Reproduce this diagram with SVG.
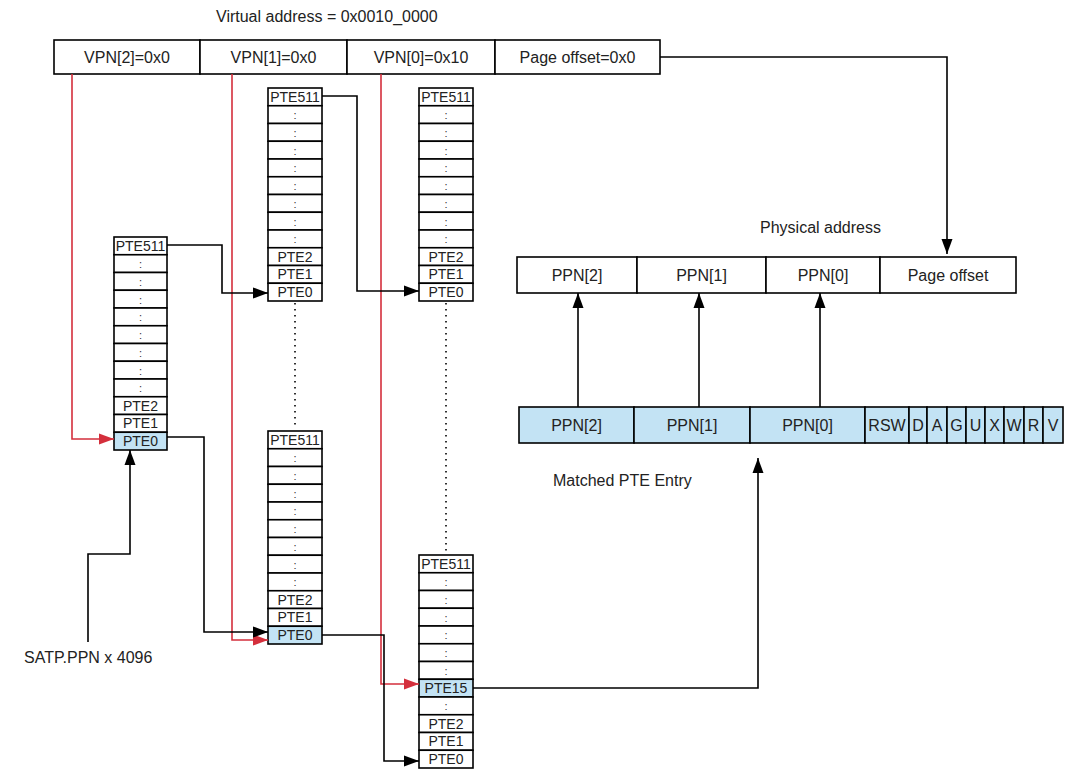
<svg xmlns="http://www.w3.org/2000/svg" width="1072" height="784" viewBox="0 0 1072 784">
<defs>
<style>
.box{fill:#fff;stroke:#000;stroke-width:1.6}
.hl{fill:#c3e3f4;stroke:#000;stroke-width:1.6}
.t{font-family:"Liberation Sans",Arial,sans-serif;font-size:16px;fill:#222;text-anchor:middle}
.tl{font-family:"Liberation Sans",Arial,sans-serif;font-size:16px;fill:#222}
.c{font-family:"Liberation Sans",Arial,sans-serif;font-size:14px;fill:#222;text-anchor:middle}
.d{font-family:"Liberation Sans",Arial,sans-serif;font-size:11px;fill:#333;text-anchor:middle}
.k{fill:none;stroke:#000;stroke-width:1.6}
.r{fill:none;stroke:#d42f3c;stroke-width:1.6}
.dot{fill:none;stroke:#000;stroke-width:1.6;stroke-dasharray:1.5 4.5}
</style>
<marker id="ak" markerUnits="userSpaceOnUse" markerWidth="16" markerHeight="12" refX="15" refY="6" orient="auto"><path d="M0,0.5 L15,6 L0,11.5 z" fill="#000"/></marker>
<marker id="ar" markerUnits="userSpaceOnUse" markerWidth="16" markerHeight="12" refX="15" refY="6" orient="auto"><path d="M0,0.5 L15,6 L0,11.5 z" fill="#d42f3c"/></marker>
</defs>
<rect width="1072" height="784" fill="#fff"/>

<g id="virtual-address">
<text class="tl" x="216" y="22">Virtual address = 0x0010_0000</text>
<rect class="box" x="54" y="40" width="146" height="34"/>
<rect class="box" x="200" y="40" width="147" height="34"/>
<rect class="box" x="347" y="40" width="148" height="34"/>
<rect class="box" x="495" y="40" width="165" height="34"/>
<text class="t" x="127" y="63">VPN[2]=0x0</text>
<text class="t" x="273.5" y="63">VPN[1]=0x0</text>
<text class="t" x="421" y="63">VPN[0]=0x10</text>
<text class="t" x="577.5" y="63">Page offset=0x0</text>
</g>

<g id="table-l2" transform="translate(114,237)">
<rect class="box" x="0" y="0" width="53" height="17.75"/>
<rect class="box" x="0" y="17.75" width="53" height="17.75"/>
<rect class="box" x="0" y="35.5" width="53" height="17.75"/>
<rect class="box" x="0" y="53.25" width="53" height="17.75"/>
<rect class="box" x="0" y="71" width="53" height="17.75"/>
<rect class="box" x="0" y="88.75" width="53" height="17.75"/>
<rect class="box" x="0" y="106.5" width="53" height="17.75"/>
<rect class="box" x="0" y="124.25" width="53" height="17.75"/>
<rect class="box" x="0" y="142" width="53" height="17.75"/>
<rect class="box" x="0" y="159.75" width="53" height="17.75"/>
<rect class="box" x="0" y="177.5" width="53" height="17.75"/>
<rect class="hl" x="0" y="195.25" width="53" height="17.75"/>
<text class="c" x="26.5" y="14">PTE511</text>
<text class="d" x="26.5" y="31">:</text>
<text class="d" x="26.5" y="48.75">:</text>
<text class="d" x="26.5" y="66.5">:</text>
<text class="d" x="26.5" y="84.25">:</text>
<text class="d" x="26.5" y="102">:</text>
<text class="d" x="26.5" y="119.75">:</text>
<text class="d" x="26.5" y="137.5">:</text>
<text class="d" x="26.5" y="155.25">:</text>
<text class="c" x="26.5" y="173.5">PTE2</text>
<text class="c" x="26.5" y="191.25">PTE1</text>
<text class="c" x="26.5" y="209">PTE0</text>
</g>

<g id="table-l1a" transform="translate(268,88)">
<rect class="box" x="0" y="0" width="54" height="17.75"/>
<rect class="box" x="0" y="17.75" width="54" height="17.75"/>
<rect class="box" x="0" y="35.5" width="54" height="17.75"/>
<rect class="box" x="0" y="53.25" width="54" height="17.75"/>
<rect class="box" x="0" y="71" width="54" height="17.75"/>
<rect class="box" x="0" y="88.75" width="54" height="17.75"/>
<rect class="box" x="0" y="106.5" width="54" height="17.75"/>
<rect class="box" x="0" y="124.25" width="54" height="17.75"/>
<rect class="box" x="0" y="142" width="54" height="17.75"/>
<rect class="box" x="0" y="159.75" width="54" height="17.75"/>
<rect class="box" x="0" y="177.5" width="54" height="17.75"/>
<rect class="box" x="0" y="195.25" width="54" height="17.75"/>
<text class="c" x="27" y="14">PTE511</text>
<text class="d" x="27" y="31">:</text>
<text class="d" x="27" y="48.75">:</text>
<text class="d" x="27" y="66.5">:</text>
<text class="d" x="27" y="84.25">:</text>
<text class="d" x="27" y="102">:</text>
<text class="d" x="27" y="119.75">:</text>
<text class="d" x="27" y="137.5">:</text>
<text class="d" x="27" y="155.25">:</text>
<text class="c" x="27" y="173.5">PTE2</text>
<text class="c" x="27" y="191.25">PTE1</text>
<text class="c" x="27" y="209">PTE0</text>
</g>

<g id="table-l0a" transform="translate(419,88)">
<rect class="box" x="0" y="0" width="54" height="17.75"/>
<rect class="box" x="0" y="17.75" width="54" height="17.75"/>
<rect class="box" x="0" y="35.5" width="54" height="17.75"/>
<rect class="box" x="0" y="53.25" width="54" height="17.75"/>
<rect class="box" x="0" y="71" width="54" height="17.75"/>
<rect class="box" x="0" y="88.75" width="54" height="17.75"/>
<rect class="box" x="0" y="106.5" width="54" height="17.75"/>
<rect class="box" x="0" y="124.25" width="54" height="17.75"/>
<rect class="box" x="0" y="142" width="54" height="17.75"/>
<rect class="box" x="0" y="159.75" width="54" height="17.75"/>
<rect class="box" x="0" y="177.5" width="54" height="17.75"/>
<rect class="box" x="0" y="195.25" width="54" height="17.75"/>
<text class="c" x="27" y="14">PTE511</text>
<text class="d" x="27" y="31">:</text>
<text class="d" x="27" y="48.75">:</text>
<text class="d" x="27" y="66.5">:</text>
<text class="d" x="27" y="84.25">:</text>
<text class="d" x="27" y="102">:</text>
<text class="d" x="27" y="119.75">:</text>
<text class="d" x="27" y="137.5">:</text>
<text class="d" x="27" y="155.25">:</text>
<text class="c" x="27" y="173.5">PTE2</text>
<text class="c" x="27" y="191.25">PTE1</text>
<text class="c" x="27" y="209">PTE0</text>
</g>

<g id="table-l1b" transform="translate(268,431)">
<rect class="box" x="0" y="0" width="54" height="17.75"/>
<rect class="box" x="0" y="17.75" width="54" height="17.75"/>
<rect class="box" x="0" y="35.5" width="54" height="17.75"/>
<rect class="box" x="0" y="53.25" width="54" height="17.75"/>
<rect class="box" x="0" y="71" width="54" height="17.75"/>
<rect class="box" x="0" y="88.75" width="54" height="17.75"/>
<rect class="box" x="0" y="106.5" width="54" height="17.75"/>
<rect class="box" x="0" y="124.25" width="54" height="17.75"/>
<rect class="box" x="0" y="142" width="54" height="17.75"/>
<rect class="box" x="0" y="159.75" width="54" height="17.75"/>
<rect class="box" x="0" y="177.5" width="54" height="17.75"/>
<rect class="hl" x="0" y="195.25" width="54" height="17.75"/>
<text class="c" x="27" y="14">PTE511</text>
<text class="d" x="27" y="31">:</text>
<text class="d" x="27" y="48.75">:</text>
<text class="d" x="27" y="66.5">:</text>
<text class="d" x="27" y="84.25">:</text>
<text class="d" x="27" y="102">:</text>
<text class="d" x="27" y="119.75">:</text>
<text class="d" x="27" y="137.5">:</text>
<text class="d" x="27" y="155.25">:</text>
<text class="c" x="27" y="173.5">PTE2</text>
<text class="c" x="27" y="191.25">PTE1</text>
<text class="c" x="27" y="209">PTE0</text>
</g>

<g id="table-l0b" transform="translate(419,555)">
<rect class="box" x="0" y="0" width="54" height="17.75"/>
<rect class="box" x="0" y="17.75" width="54" height="17.75"/>
<rect class="box" x="0" y="35.5" width="54" height="17.75"/>
<rect class="box" x="0" y="53.25" width="54" height="17.75"/>
<rect class="box" x="0" y="71" width="54" height="17.75"/>
<rect class="box" x="0" y="88.75" width="54" height="17.75"/>
<rect class="box" x="0" y="106.5" width="54" height="17.75"/>
<rect class="hl" x="0" y="124.25" width="54" height="17.75"/>
<rect class="box" x="0" y="142" width="54" height="17.75"/>
<rect class="box" x="0" y="159.75" width="54" height="17.75"/>
<rect class="box" x="0" y="177.5" width="54" height="17.75"/>
<rect class="box" x="0" y="195.25" width="54" height="17.75"/>
<text class="c" x="27" y="14">PTE511</text>
<text class="d" x="27" y="31">:</text>
<text class="d" x="27" y="48.75">:</text>
<text class="d" x="27" y="66.5">:</text>
<text class="d" x="27" y="84.25">:</text>
<text class="d" x="27" y="102">:</text>
<text class="d" x="27" y="119.75">:</text>
<text class="c" x="27" y="138">PTE15</text>
<text class="d" x="27" y="155.25">:</text>
<text class="c" x="27" y="173.5">PTE2</text>
<text class="c" x="27" y="191.25">PTE1</text>
<text class="c" x="27" y="209">PTE0</text>
</g>

<g id="physical-address">
<text class="tl" x="760" y="233">Physical address</text>
<rect class="box" x="517" y="257" width="120" height="36"/>
<rect class="box" x="637" y="257" width="129" height="36"/>
<rect class="box" x="766" y="257" width="114" height="36"/>
<rect class="box" x="880" y="257" width="136" height="36"/>
<text class="t" x="577" y="281">PPN[2]</text>
<text class="t" x="701.5" y="281">PPN[1]</text>
<text class="t" x="823" y="281">PPN[0]</text>
<text class="t" x="948" y="281">Page offset</text>
</g>

<g id="pte-entry">
<rect class="hl" x="519" y="407" width="115" height="36"/>
<rect class="hl" x="634" y="407" width="116" height="36"/>
<rect class="hl" x="750" y="407" width="115" height="36"/>
<rect class="hl" x="865" y="407" width="44" height="36"/>
<rect class="hl" x="909" y="407" width="18" height="36"/>
<rect class="hl" x="927" y="407" width="20" height="36"/>
<rect class="hl" x="947" y="407" width="19" height="36"/>
<rect class="hl" x="966" y="407" width="19" height="36"/>
<rect class="hl" x="985" y="407" width="19" height="36"/>
<rect class="hl" x="1004" y="407" width="20" height="36"/>
<rect class="hl" x="1024" y="407" width="19" height="36"/>
<rect class="hl" x="1043" y="407" width="20" height="36"/>
<text class="t" x="576.5" y="431">PPN[2]</text>
<text class="t" x="692" y="431">PPN[1]</text>
<text class="t" x="807.5" y="431">PPN[0]</text>
<text class="t" x="887" y="431">RSW</text>
<text class="t" x="918" y="431">D</text>
<text class="t" x="937" y="431">A</text>
<text class="t" x="956.5" y="431">G</text>
<text class="t" x="975.5" y="431">U</text>
<text class="t" x="994.5" y="431">X</text>
<text class="t" x="1014" y="431">W</text>
<text class="t" x="1033.5" y="431">R</text>
<text class="t" x="1053" y="431">V</text>
<text class="tl" x="553" y="486">Matched PTE Entry</text>
</g>

<g id="satp">
<text class="tl" x="24" y="663">SATP.PPN x 4096</text>
</g>

<g id="connectors">
<path class="dot" d="M295,303 V429"/>
<path class="dot" d="M446,303 V553"/>
<path class="r" d="M72,74 V439 H114" marker-end="url(#ar)"/>
<path class="r" d="M232,74 V640 H268" marker-end="url(#ar)"/>
<path class="r" d="M381,74 V684 H419" marker-end="url(#ar)"/>
<path class="k" d="M88,642 V554 H130 V450" marker-end="url(#ak)"/>
<path class="k" d="M167,245 H222 V293 H268" marker-end="url(#ak)"/>
<path class="k" d="M322,96 H357 V291 H419" marker-end="url(#ak)"/>
<path class="k" d="M167,437 H204 V632 H268" marker-end="url(#ak)"/>
<path class="k" d="M322,635 H384 V761 H419" marker-end="url(#ak)"/>
<path class="k" d="M473,688 H758 V458" marker-end="url(#ak)"/>
<path class="k" d="M660,57 H947 V254" marker-end="url(#ak)"/>
<path class="k" d="M578,407 V293" marker-end="url(#ak)"/>
<path class="k" d="M699,407 V293" marker-end="url(#ak)"/>
<path class="k" d="M820,407 V293" marker-end="url(#ak)"/>
</g>
</svg>
